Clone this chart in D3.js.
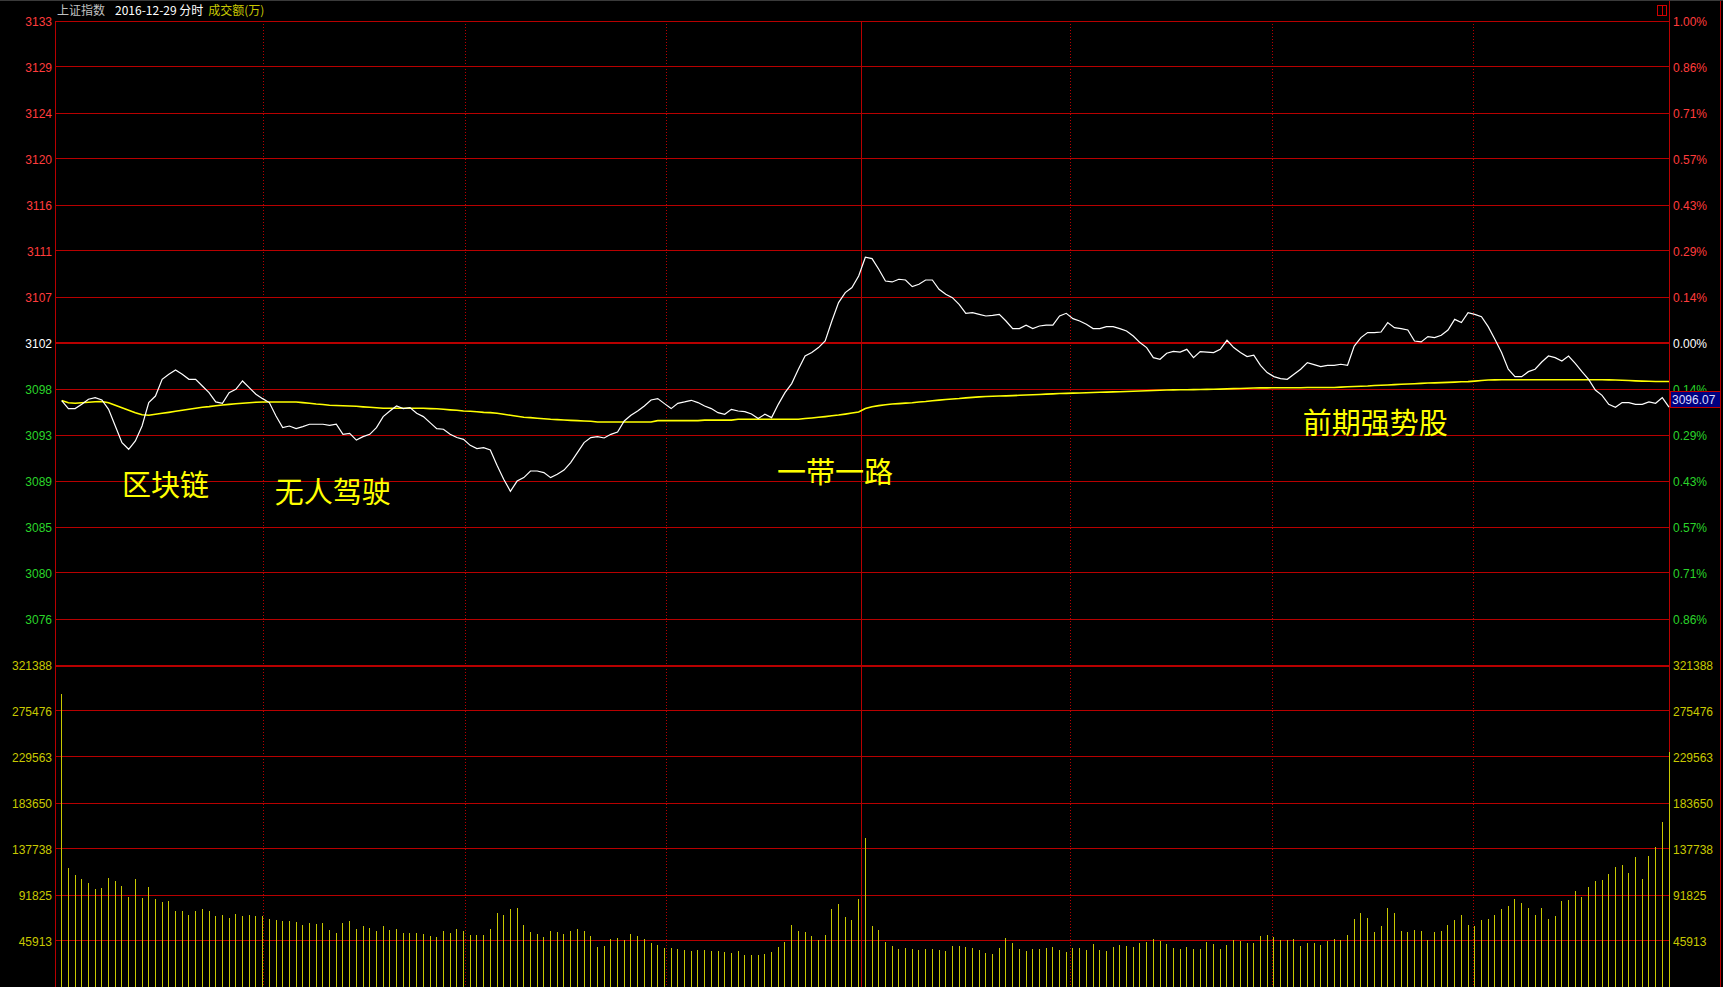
<!DOCTYPE html>
<html>
<head>
<meta charset="utf-8">
<title>上证指数 2016-12-29 分时</title>
<script src="https://cdnjs.cloudflare.com/ajax/libs/d3/7.8.5/d3.min.js"></script>
<style>
	html, body { margin: 0; padding: 0; background: #000; overflow: hidden; }
	svg { display: block; }
	text { font-family: "Liberation Sans", Arial, sans-serif; }
	.cjk { font-family: "Noto Sans CJK SC", sans-serif; }
</style>
</head>
<body>
<svg id="chart"></svg>
<script>
// previous close of the index, 0.00% line
const prevClose = 3102.24;

const priceTicks = [3133, 3129, 3124, 3120, 3116, 3111, 3107, 3102, 3098, 3093, 3089, 3085, 3080, 3076];
const pctTicks = ['1.00%', '0.86%', '0.71%', '0.57%', '0.43%', '0.29%', '0.14%', '0.00%', '0.14%', '0.29%', '0.43%', '0.57%', '0.71%', '0.86%'];
const volTicks = [321388, 275476, 229563, 183650, 137738, 91825, 45913];

// one value per minute, 9:30 .. 11:30, 13:01 .. 15:00 (241 points)
const price = [
	3096.69, 3095.92, 3095.92, 3096.33, 3096.82, 3096.98, 3096.75, 3095.85, 3094.24, 3092.64,
	3092.00, 3092.80, 3094.24, 3096.50, 3097.13, 3098.74, 3099.22, 3099.64, 3099.22, 3098.74,
	3098.74, 3098.10, 3097.46, 3096.56, 3096.43, 3097.46, 3097.78, 3098.58, 3097.94, 3097.30,
	3096.88, 3096.50, 3095.21, 3094.09, 3094.24, 3093.99, 3094.19, 3094.41, 3094.41, 3094.41,
	3094.31, 3094.41, 3093.44, 3093.54, 3092.89, 3093.22, 3093.44, 3094.09, 3095.15, 3095.69,
	3096.17, 3095.92, 3096.02, 3095.47, 3095.15, 3094.57, 3093.99, 3093.93, 3093.44, 3093.13,
	3092.96, 3092.38, 3092.07, 3092.16, 3091.93, 3090.46, 3089.11, 3087.95, 3088.94, 3089.27,
	3089.91, 3089.91, 3089.75, 3089.27, 3089.59, 3090.00, 3090.72, 3091.68, 3092.64, 3093.13,
	3093.22, 3093.09, 3093.44, 3093.67, 3094.73, 3095.27, 3095.69, 3096.17, 3096.75, 3096.88,
	3096.40, 3095.92, 3096.43, 3096.56, 3096.72, 3096.50, 3096.17, 3095.92, 3095.53, 3095.37,
	3095.85, 3095.69, 3095.63, 3095.40, 3094.96, 3095.37, 3095.05, 3096.33, 3097.46, 3098.33,
	3099.71, 3100.99, 3101.32, 3101.80, 3102.43, 3104.36, 3106.13, 3107.10, 3107.58, 3108.69,
	3110.50, 3110.37, 3109.34, 3108.21, 3108.12, 3108.38, 3108.31, 3107.67, 3107.90, 3108.31,
	3108.31, 3107.41, 3106.93, 3106.61, 3105.97, 3105.10, 3105.17, 3105.00, 3104.84, 3104.91,
	3105.00, 3104.36, 3103.63, 3103.63, 3103.95, 3103.63, 3103.88, 3103.97, 3103.97, 3104.84,
	3105.10, 3104.59, 3104.36, 3104.04, 3103.63, 3103.63, 3103.82, 3103.82, 3103.63, 3103.40,
	3102.91, 3102.28, 3101.80, 3100.83, 3100.67, 3101.25, 3101.44, 3101.37, 3101.63, 3100.83,
	3101.41, 3101.37, 3101.32, 3101.63, 3102.50, 3101.80, 3101.32, 3100.93, 3101.06, 3100.09,
	3099.39, 3099.00, 3098.81, 3098.74, 3099.22, 3099.71, 3100.35, 3100.16, 3099.97, 3100.09,
	3100.09, 3100.19, 3100.09, 3101.95, 3102.76, 3103.24, 3103.24, 3103.30, 3104.21, 3103.72,
	3103.63, 3103.49, 3102.43, 3102.34, 3102.86, 3102.76, 3102.98, 3103.49, 3104.52, 3104.21,
	3105.17, 3105.00, 3104.78, 3103.82, 3102.60, 3101.32, 3099.71, 3099.00, 3099.00, 3099.48,
	3099.71, 3100.41, 3100.99, 3100.83, 3100.51, 3100.99, 3100.28, 3099.48, 3098.74, 3097.71,
	3097.20, 3096.33, 3096.05, 3096.50, 3096.50, 3096.33, 3096.33, 3096.56, 3096.43, 3096.98,
	3096.07
];

// yellow line (non-weighted index)
const avgPrice = [
	3096.69, 3096.48, 3096.43, 3096.48, 3096.53, 3096.58, 3096.60, 3096.48, 3096.24, 3096.00,
	3095.76, 3095.52, 3095.32, 3095.28, 3095.37, 3095.47, 3095.56, 3095.66, 3095.76, 3095.85,
	3095.95, 3096.05, 3096.11, 3096.19, 3096.26, 3096.33, 3096.38, 3096.43, 3096.48, 3096.53,
	3096.56, 3096.56, 3096.56, 3096.56, 3096.56, 3096.56, 3096.50, 3096.43, 3096.36, 3096.31,
	3096.24, 3096.22, 3096.19, 3096.17, 3096.14, 3096.09, 3096.05, 3096.00, 3095.95, 3095.95,
	3095.95, 3095.95, 3095.95, 3095.95, 3095.95, 3095.92, 3095.90, 3095.85, 3095.80, 3095.76,
	3095.69, 3095.66, 3095.61, 3095.56, 3095.53, 3095.47, 3095.37, 3095.28, 3095.18, 3095.08,
	3095.05, 3094.99, 3094.94, 3094.89, 3094.86, 3094.82, 3094.79, 3094.76, 3094.73, 3094.70,
	3094.63, 3094.63, 3094.63, 3094.63, 3094.63, 3094.63, 3094.63, 3094.63, 3094.63, 3094.76,
	3094.76, 3094.76, 3094.76, 3094.76, 3094.76, 3094.76, 3094.81, 3094.81, 3094.81, 3094.81,
	3094.81, 3094.89, 3094.89, 3094.89, 3094.89, 3094.89, 3094.89, 3094.89, 3094.89, 3094.89,
	3094.89, 3094.96, 3095.02, 3095.08, 3095.15, 3095.23, 3095.30, 3095.39, 3095.49, 3095.59,
	3095.92, 3096.09, 3096.21, 3096.29, 3096.36, 3096.40, 3096.45, 3096.49, 3096.56, 3096.61,
	3096.68, 3096.74, 3096.80, 3096.85, 3096.89, 3096.95, 3097.00, 3097.05, 3097.08, 3097.11,
	3097.13, 3097.15, 3097.17, 3097.20, 3097.23, 3097.25, 3097.28, 3097.31, 3097.34, 3097.37,
	3097.39, 3097.41, 3097.43, 3097.45, 3097.47, 3097.49, 3097.51, 3097.53, 3097.55, 3097.57,
	3097.59, 3097.62, 3097.64, 3097.67, 3097.69, 3097.71, 3097.72, 3097.73, 3097.74, 3097.75,
	3097.76, 3097.77, 3097.78, 3097.80, 3097.82, 3097.84, 3097.86, 3097.88, 3097.91, 3097.92,
	3097.92, 3097.93, 3097.93, 3097.93, 3097.93, 3097.93, 3097.96, 3097.96, 3097.96, 3097.96,
	3097.96, 3097.99, 3098.02, 3098.05, 3098.08, 3098.10, 3098.14, 3098.17, 3098.20, 3098.23,
	3098.26, 3098.29, 3098.32, 3098.35, 3098.38, 3098.40, 3098.42, 3098.45, 3098.47, 3098.50,
	3098.52, 3098.57, 3098.62, 3098.67, 3098.69, 3098.70, 3098.70, 3098.70, 3098.70, 3098.70,
	3098.70, 3098.70, 3098.70, 3098.70, 3098.70, 3098.70, 3098.70, 3098.70, 3098.70, 3098.70,
	3098.70, 3098.69, 3098.68, 3098.65, 3098.62, 3098.59, 3098.57, 3098.55, 3098.53, 3098.53,
	3098.53
];

// 成交额 (万)
const volume = [
	292700, 119100, 112100, 108100, 104100, 98100, 99100, 109100, 106100, 101100,
	90100, 108100, 89100, 100100, 88100, 85100, 86100, 76200, 76200, 72200,
	76200, 78100, 76200, 71200, 72200, 69200, 73200, 71200, 72200, 71200,
	71200, 68200, 67200, 66200, 66200, 65200, 62200, 64200, 63200, 64200,
	57200, 54200, 64200, 66200, 58200, 61200, 59200, 56200, 61200, 57200,
	58200, 54200, 54200, 54200, 53200, 51200, 50200, 56200, 54200, 58200,
	56200, 52200, 52200, 52200, 58200, 74200, 72200, 78100, 79100, 62200,
	55200, 53200, 50200, 56200, 55200, 53200, 56200, 58200, 56200, 51200,
	40200, 41200, 48200, 49200, 47200, 53200, 51200, 48200, 44200, 42200,
	39200, 39200, 38200, 37200, 36200, 37200, 37200, 36200, 36200, 35200,
	34200, 36200, 32200, 32200, 32200, 33200, 35200, 40200, 45200, 62200,
	56200, 55200, 51200, 47200, 52200, 78100, 83100, 70200, 67200, 88100,
	149000, 61200, 57200, 45200, 41200, 38200, 39200, 38200, 37200, 38200,
	38200, 37200, 36200, 41200, 41200, 40200, 39200, 37200, 34200, 33200,
	39200, 49200, 44200, 38200, 36200, 38200, 38200, 39200, 40200, 37200,
	35200, 39200, 39200, 37200, 43200, 37200, 36200, 40200, 42200, 41000,
	40200, 44200, 45200, 48200, 46200, 43200, 39200, 38200, 40200, 38200,
	38200, 45200, 43200, 38200, 42200, 47200, 46200, 44200, 44200, 51200,
	52200, 50200, 47200, 47200, 48200, 41200, 44200, 44200, 42200, 46200,
	48200, 47200, 52200, 68200, 74200, 69200, 55200, 61200, 79100, 74200,
	56200, 55200, 57200, 56200, 47200, 55200, 56200, 62200, 67200, 72200,
	62200, 61200, 67200, 68200, 72200, 78100, 81100, 88100, 84100, 79100,
	72200, 79100, 68200, 71200, 86100, 87100, 96100, 90100, 100100, 106100,
	107100, 113100, 120100, 122100, 114100, 130000, 108100, 131000, 140000, 165000,
	234500
];

// theme labels, placed by minute and index level
const noteText = ['区块链', '无人驾驶', '一带一路', '前期强势股'];
const noteMinute = [9, 31.8, 106.8, 185.3];
const noteLevel = [3087.5, 3086.8, 3088.8, 3093.5];

const W = 1723;
const H = 987;
const plotLeft = 55;
const plotRight = 1669;
const plotTop = 21;
const plotSplit = 665;
const plotBottom = 987;

const RED_GRID = '#b80000';
const RED_TXT = '#ff3c3c';
const GREEN_TXT = '#2ad42a';
const VOL_COL = '#c8c800';

const svg = d3.select('#chart')
	.attr('width', W)
	.attr('height', H);

svg.append('rect')
	.attr('width', W)
	.attr('height', H)
	.attr('fill', '#000');

const x = d3.scaleLinear()
	.domain([-1, price.length - 1])
	.range([plotLeft, plotRight]);
const step = x(0) - x(-1);
// the half-hour grid is evenly split in 8, shifted one slot right
const gridX = d3.scaleLinear()
	.domain([0, 8])
	.range([plotLeft + step, plotRight + step]);

const yPrice = d3.scaleLinear()
	.domain([prevClose * 0.99, prevClose * 1.01])
	.range([plotSplit, plotTop]);

const yVol = d3.scaleLinear()
	.domain([0, volTicks[0]])
	.range([plotBottom, plotSplit]);

const px = (v) => Math.floor(v) + 0.5;

// price levels of the 14 grid rows (k/7 percent steps)
const levels = priceTicks.map((t, k) => prevClose * (1 + (7 - k) / 700));

const grid = svg.append('g')
	.attr('shape-rendering', 'crispEdges');

grid.selectAll('line.hp')
	.data(levels)
	.enter()
	.append('line')
	.attr('class', 'hp')
	.attr('x1', plotLeft)
	.attr('x2', plotRight)
	.attr('y1', (d, k) => k === 7 ? Math.round(yPrice(d)) : px(yPrice(d)))
	.attr('y2', (d, k) => k === 7 ? Math.round(yPrice(d)) : px(yPrice(d)))
	.attr('stroke', RED_GRID)
	.attr('stroke-width', (d, k) => k === 7 ? 2 : 1);

grid.selectAll('line.hv')
	.data(volTicks)
	.enter()
	.append('line')
	.attr('class', 'hv')
	.attr('x1', plotLeft)
	.attr('x2', plotRight)
	.attr('y1', (d, k) => k === 0 ? Math.round(yVol(d)) + 1 : px(yVol(d)))
	.attr('y2', (d, k) => k === 0 ? Math.round(yVol(d)) + 1 : px(yVol(d)))
	.attr('stroke', RED_GRID)
	.attr('stroke-width', (d, k) => k === 0 ? 2 : 1);

// half-hour verticals
grid.selectAll('line.vd')
	.data([1, 2, 3, 5, 6, 7])
	.enter()
	.append('line')
	.attr('class', 'vd')
	.attr('x1', (d) => px(gridX(d)))
	.attr('x2', (d) => px(gridX(d)))
	.attr('y1', plotTop)
	.attr('y2', plotBottom)
	.attr('stroke', RED_GRID)
	.attr('stroke-dasharray', '1,2');

grid.append('line')
	.attr('x1', px(gridX(4) - step))
	.attr('x2', px(gridX(4) - step))
	.attr('y1', plotTop)
	.attr('y2', plotBottom)
	.attr('stroke', RED_GRID);

// frame
grid.append('line')
	.attr('x1', px(plotLeft)).attr('x2', px(plotLeft))
	.attr('y1', plotTop).attr('y2', plotBottom)
	.attr('stroke', RED_GRID);
grid.append('line')
	.attr('x1', px(plotRight)).attr('x2', px(plotRight))
	.attr('y1', 0).attr('y2', plotBottom)
	.attr('stroke', RED_GRID);
grid.append('line')
	.attr('x1', 1720.5).attr('x2', 1720.5)
	.attr('y1', 0).attr('y2', plotBottom)
	.attr('stroke', RED_GRID);
grid.append('line')
	.attr('x1', 0).attr('x2', W)
	.attr('y1', 0.5).attr('y2', 0.5)
	.attr('stroke', '#3a3a3a');

// volume bars
svg.append('g')
	.attr('shape-rendering', 'crispEdges')
	.selectAll('line')
	.data(volume)
	.enter()
	.append('line')
	.attr('x1', (d, i) => px(x(i)))
	.attr('x2', (d, i) => px(x(i)))
	.attr('y1', yVol(0))
	.attr('y2', (d) => Math.round(yVol(d)))
	.attr('stroke', VOL_COL);

// average (yellow) and price (white)
const line = d3.line()
	.x((d, i) => x(i))
	.y((d) => yPrice(d));

svg.append('path')
	.datum(avgPrice)
	.attr('d', line)
	.attr('fill', 'none')
	.attr('stroke', '#ffff00')
	.attr('stroke-width', 1.6);

svg.append('path')
	.datum(price)
	.attr('d', line)
	.attr('fill', 'none')
	.attr('stroke', '#ffffff')
	.attr('stroke-width', 1.2);

// axis labels
const tickColor = (k) => k < 7 ? RED_TXT : (k === 7 ? '#ffffff' : GREEN_TXT);

const axes = svg.append('g')
	.attr('font-size', 12);

axes.selectAll('text.lp')
	.data(priceTicks)
	.enter()
	.append('text')
	.attr('class', 'lp')
	.attr('x', 52)
	.attr('y', (d, k) => yPrice(levels[k]) + 4.5)
	.attr('text-anchor', 'end')
	.attr('fill', (d, k) => tickColor(k))
	.text((d) => d);

axes.selectAll('text.rp')
	.data(pctTicks)
	.enter()
	.append('text')
	.attr('class', 'rp')
	.attr('x', 1673)
	.attr('y', (d, k) => yPrice(levels[k]) + 4.5)
	.attr('fill', (d, k) => tickColor(k))
	.text((d) => d);

axes.selectAll('text.lv')
	.data(volTicks)
	.enter()
	.append('text')
	.attr('class', 'lv')
	.attr('x', 52)
	.attr('y', (d) => yVol(d) + 5)
	.attr('text-anchor', 'end')
	.attr('fill', VOL_COL)
	.text((d) => d);

axes.selectAll('text.rv')
	.data(volTicks)
	.enter()
	.append('text')
	.attr('class', 'rv')
	.attr('x', 1673)
	.attr('y', (d) => yVol(d) + 5)
	.attr('fill', VOL_COL)
	.text((d) => d);

// last price tag (sits over the 0.14% label, as in the terminal)
const last = price[price.length - 1];
const tagY = Math.round(yPrice(last)) - 16;

svg.append('rect')
	.attr('x', 1670.5)
	.attr('y', tagY + 0.5)
	.attr('width', 50)
	.attr('height', 16)
	.attr('fill', '#000080')
	.attr('stroke', '#c00000')
	.attr('shape-rendering', 'crispEdges');

svg.append('text')
	.attr('x', 1672)
	.attr('y', tagY + 13)
	.attr('font-size', 12)
	.attr('fill', '#dcdcff')
	.text(last.toFixed(2));

// header
const head = svg.append('text')
	.attr('class', 'cjk')
	.attr('x', 57)
	.attr('y', 15)
	.attr('font-size', 12);
head.append('tspan').attr('fill', '#c0c0c0').text('上证指数');
head.append('tspan').attr('fill', '#ffffff').attr('dx', 10).text('2016-12-29 分时');
head.append('tspan').attr('fill', VOL_COL).attr('dx', 5).text('成交额(万)');

// small icon at top right
svg.append('rect')
	.attr('x', 1657.5)
	.attr('y', 5.5)
	.attr('width', 9)
	.attr('height', 10)
	.attr('fill', 'none')
	.attr('stroke', '#d00000')
	.attr('shape-rendering', 'crispEdges');
svg.append('line')
	.attr('x1', 1662.5).attr('x2', 1662.5)
	.attr('y1', 5.5).attr('y2', 15.5)
	.attr('stroke', '#d00000')
	.attr('shape-rendering', 'crispEdges');

// theme notes
svg.append('g')
	.selectAll('text')
	.data(noteText)
	.enter()
	.append('text')
	.attr('class', 'cjk')
	.attr('x', (d, i) => x(noteMinute[i]))
	.attr('y', (d, i) => yPrice(noteLevel[i]))
	.attr('font-size', 29)
	.attr('fill', '#ffff00')
	.text((d) => d);
</script>
</body>
</html>
